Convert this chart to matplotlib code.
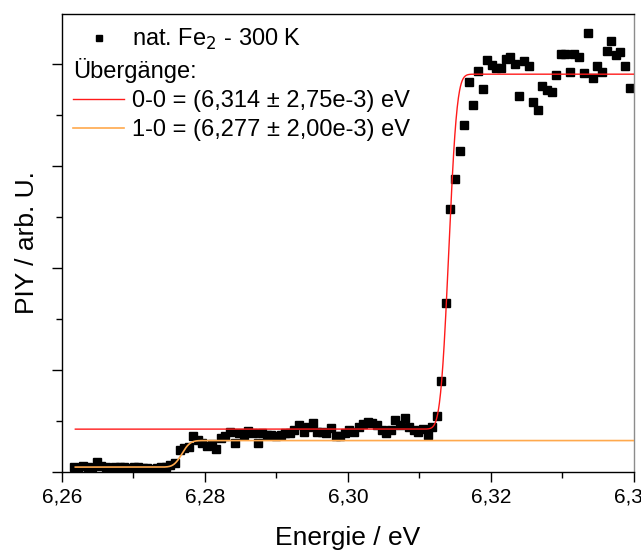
import numpy as np
import matplotlib
matplotlib.use('Agg')
import matplotlib.pyplot as plt
from matplotlib.lines import Line2D
from matplotlib.ticker import MultipleLocator, FuncFormatter
from math import erf, sqrt

plt.rcParams['font.family'] = ['Liberation Sans', 'DejaVu Sans']

# measured points: energy grid (eV) and PIY (arb. U.)
e_start = 6.2617
e_step = 0.000642
piy = [0.013, 0.009, 0.015, 0.013, 0.009, 0.025, 0.015, 0.013, 0.009, 0.013,
       0.012, 0.013, 0.009, 0.012, 0.012, 0.009, 0.009, 0.007, 0.009, 0.012,
       0.013, 0.017, 0.021, 0.054, 0.058, 0.061, 0.088, 0.078, 0.072, 0.064,
       0.069, 0.056, 0.083, 0.087, 0.099, 0.072, 0.095, 0.091, 0.101, 0.096,
       0.072, 0.095, 0.091, 0.091, 0.087, 0.091, 0.095, 0.095, 0.103, 0.115,
       0.099, 0.111, 0.119, 0.097, 0.097, 0.095, 0.107, 0.088, 0.088, 0.095,
       0.103, 0.099, 0.111, 0.118, 0.122, 0.121, 0.115, 0.103, 0.095, 0.103,
       0.127, 0.115, 0.132, 0.111, 0.103, 0.099, 0.105, 0.091, 0.110, 0.136,
       0.223, 0.414, 0.644, 0.719, 0.787, 0.850, 0.957, 0.900, 0.984, 0.939,
       1.010, 0.997, 0.989, 0.989, 1.013, 1.016, 0.999, 0.922, 1.008, 0.996,
       0.908, 0.886, 0.947, 0.936, 0.932, 0.973, 1.024, 1.025, 0.981, 1.025,
       1.018, 0.979, 1.077, 0.966, 0.996, 0.980, 1.032, 1.057, 1.023, 1.030,
       0.994, 0.942]
energy = e_start + e_step * np.arange(len(piy))

# fit parameters (step functions): base, top, position, width
fit_00 = (0.105, 0.975, 6.3141, 0.0009)
fit_10 = (0.012, 0.077, 6.2768, 0.0009)
fit_start = 6.2619
fit_end = 6.345

def step(e, y0, y1, e0, s):
    return y0 + (y1 - y0) * 0.5 * (1 + np.array([erf((v - e0) / (s * sqrt(2))) for v in e]))

red = '#ff1a1a'
orange = '#ffa94d'

fig = plt.figure(figsize=(6.41, 5.51), dpi=100)
ax = fig.add_axes([0.0963, 0.1434, 0.8928, 0.8312])

ax.plot(energy, piy, ls='none', marker='s', ms=6, color='black', zorder=2)
ef = np.linspace(fit_start, fit_end, 1500)
ax.plot(ef, step(ef, *fit_00), color=red, lw=1, zorder=3)
ax.plot(ef, step(ef, *fit_10), color=orange, lw=1.2, zorder=3)

ax.set_xlim(6.26, 6.34)
ax.set_ylim(0, 1.1225)
ax.xaxis.set_major_locator(MultipleLocator(0.02))
ax.xaxis.set_minor_locator(MultipleLocator(0.01))
ax.yaxis.set_major_locator(MultipleLocator(0.25))
ax.yaxis.set_minor_locator(MultipleLocator(0.125))
ax.xaxis.set_major_formatter(FuncFormatter(lambda v, p: ('%.2f' % v).replace('.', ',')))
ax.yaxis.set_major_formatter(FuncFormatter(lambda v, p: ''))
ax.tick_params(which='major', direction='out', length=7, width=1, labelsize=15, pad=4)
ax.tick_params(which='minor', direction='out', length=4, width=1)
for s in ax.spines.values():
    s.set_linewidth(1)
ax.spines['right'].set_color('#8c8c8c')

ax.set_xlabel('Energie / eV', fontsize=19)
ax.set_ylabel('PIY / arb. U.', fontsize=19)
ax.xaxis.set_label_coords(0.5, -0.118)
ax.yaxis.set_label_coords(-0.04, 0.5)

h1 = [Line2D([], [], ls='none', marker='s', ms=5, color='black')]
leg1 = ax.legend(h1, ['nat. Fe$_2$ - 300 K'], loc='upper left', frameon=False,
                 bbox_to_anchor=(0.02, 0.972), borderaxespad=0.0, borderpad=0.0,
                 fontsize=17, handlelength=2.16, handletextpad=0.34)
ax.add_artist(leg1)
h2 = [Line2D([], [], color=red, lw=1), Line2D([], [], color=orange, lw=1.2)]
ax.legend(h2, ['0-0 = (6,314 ± 2,75e-3) eV', '1-0 = (6,277 ± 2,00e-3) eV'],
          title='Übergänge:', title_fontsize=17, alignment='left',
          loc='upper left', frameon=False, bbox_to_anchor=(0.02, 0.904),
          borderaxespad=0.0, borderpad=0.0, fontsize=17, handlelength=2.16,
          handletextpad=0.34, labelspacing=0.3)

fig.savefig('out.png', dpi=100)
